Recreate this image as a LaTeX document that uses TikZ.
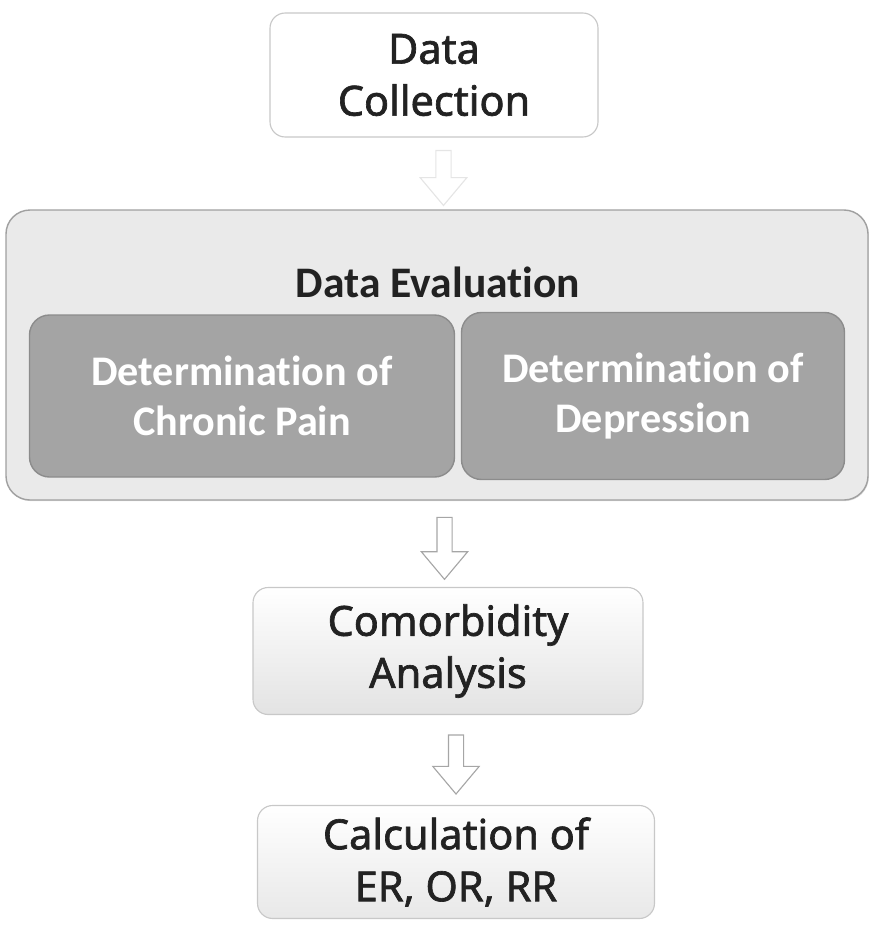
\documentclass[tikz,border=0pt]{standalone}
\usepackage{fontspec}
\setmainfont{Noto Sans}[FakeBold=1.6]
\newfontfamily\calfont{Carlito}[Ligatures=NoCommon]
\usepackage{tikz}
\usetikzlibrary{calc,positioning,shapes.arrows,shadows}

\definecolor{txtgray}{HTML}{222222}
\definecolor{boxline}{HTML}{C8C8C8}
\definecolor{outerfill}{HTML}{EAEAEA}
\definecolor{innerfill}{HTML}{A4A4A4}
\definecolor{innerline}{HTML}{8C8C8C}

\begin{document}
\begin{tikzpicture}[
    stepbox/.style={draw=boxline, line width=0.8pt, rounded corners=0.38cm, align=center,
        text=txtgray, font=\fontsize{29.5}{37}\selectfont},
    outerbox/.style={draw=boxline!80!black, line width=1pt, fill=outerfill, rounded corners=0.6cm,
        drop shadow={shadow xshift=0.6pt, shadow yshift=-0.8pt, opacity=0.25}},
    innerbox/.style={draw=innerline, line width=1pt, fill=innerfill, rounded corners=0.5cm,
        align=center, text=white, font=\calfont\bfseries\fontsize{30}{35.5}\selectfont},
    downarrow/.style={single arrow, draw=#1, line width=0.8pt, fill=white, rotate=-90,
        inner sep=0.175cm, single arrow head extend=0.39cm, single arrow tip angle=80},
    downarrow/.default=gray!70
]
\useasboundingbox (0cm,0cm) rectangle (21.9cm,-23.2cm);

% top box
\node[stepbox, fill=white, minimum width=8.2cm, minimum height=3.1cm] (collect) at (10.85cm,-1.875cm) {Data\\Collection};

% evaluation frame with its two parts
\node[outerbox, minimum width=21.55cm, minimum height=7.25cm] (eval) at (10.925cm,-8.875cm) {};
\node[text=txtgray, font=\calfont\bfseries\fontsize{31}{36}\selectfont] (evaltitle) at (10.95cm,-7.05cm) {Data Evaluation};
\node[innerbox, minimum width=10.625cm, minimum height=4.05cm] (pain) at (6.05cm,-9.9cm) {Determination of\\Chronic Pain};
\node[innerbox, minimum width=9.575cm, minimum height=4.175cm] (depr) at (16.325cm,-9.9cm) {Determination of\\Depression};

% lower boxes
\node[stepbox, top color=white, bottom color=gray!22, minimum width=9.75cm, minimum height=3.175cm] (comorb) at (11.2cm,-16.275cm) {Comorbidity\\Analysis};
\node[stepbox, top color=white, bottom color=gray!18, minimum width=9.925cm, minimum height=2.825cm] (calc) at (11.4cm,-21.55cm) {Calculation of\\ER, OR, RR};

% hollow arrows between the steps
\node[downarrow=gray!20, minimum height=1.375cm, minimum width=1.17cm] (arrA) at ($(collect.south)!0.5!(eval.north)+(0.2cm,0)$) {};
\node[downarrow, minimum height=1.55cm, minimum width=1.125cm] (arrB) at ($(eval.south)!0.5!(comorb.north)+(0.05cm,0)$) {};
\node[downarrow, minimum height=1.475cm, minimum width=1.05cm] (arrC) at ($(comorb.south)!0.5!(calc.north)+(0.1cm,0)$) {};
\end{tikzpicture}
\end{document}
